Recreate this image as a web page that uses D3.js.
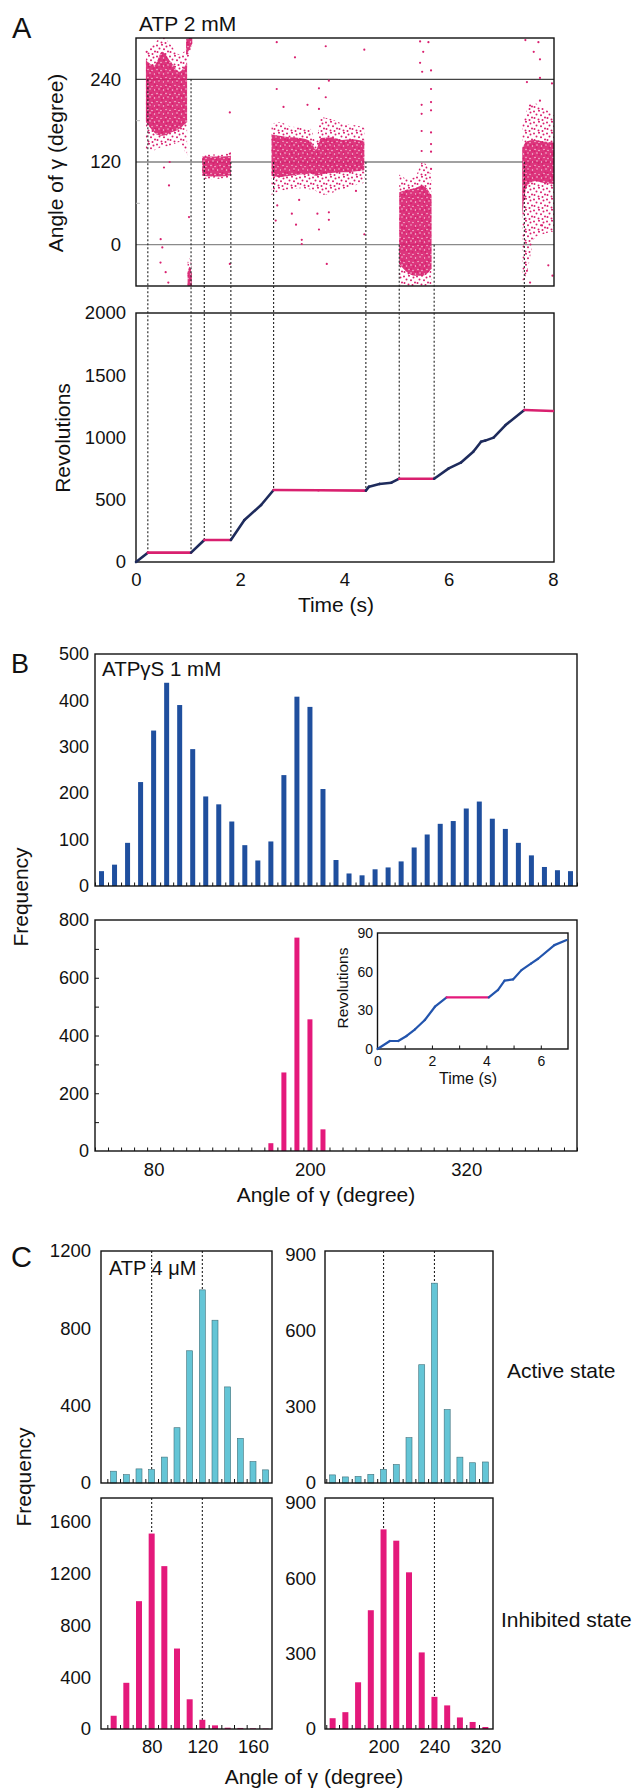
<!DOCTYPE html>
<html lang="en">
<head>
	<meta charset="utf-8">
	<title>Rotation of gamma subunit</title>
	<script src="https://cdn.jsdelivr.net/npm/d3@7"></script>
	<style>
		body { margin: 0; background: #fff; }
		svg text { font-family: "Liberation Sans", Arial, Helvetica, sans-serif; fill: #111; }
	</style>
</head>
<body>
<script type="text/javascript">

	// ---------- Panel A data ----------
	// dashed guide lines: time, angle where they start in the top plot, revolutions where they end
	var dashTimes = [0.227, 1.056, 1.31, 1.82, 2.64, 4.41, 5.05, 5.72, 7.45];
	var dashAngles = [240, 240, 120, 120, 120, 120, 0, 0, 120];
	var dashRevs = [75, 75, 177, 177, 578, 573, 669, 669, 1221];

	// pauses (drawn pink on the revolution trace)
	var pauseStart = [0.227, 1.31, 2.64, 5.05, 7.45];
	var pauseEnd = [1.056, 1.82, 4.41, 5.72, 8.0];

	// revolution trace
	var revTime = [0, 0.227, 1.056, 1.31, 1.82, 2.08, 2.40, 2.64, 3.5, 4.41, 4.47, 4.67, 4.90, 5.05, 5.72, 6.00, 6.23, 6.47, 6.62, 6.70, 6.86, 7.09, 7.45, 8.0];
	var revValue = [0, 75, 75, 177, 177, 337, 458, 578, 576, 573, 605, 627, 637, 669, 669, 752, 798, 886, 966, 975, 999, 1100, 1221, 1213];

	// angle clouds (time samples, outer and dense envelopes)
	var cloudTime = [
		[0.19, 0.35, 0.50, 0.67, 0.83, 0.98],
		[0.96, 1.00, 1.04, 1.08],
		[0.99, 1.03, 1.07],
		[1.27, 1.45, 1.65, 1.82],
		[2.60, 2.75, 2.95, 3.15, 3.35, 3.45, 3.55, 3.75, 3.95, 4.15, 4.38],
		[5.05, 5.20, 5.35, 5.50, 5.67],
		[7.41, 7.50, 7.65, 7.80, 8.05]
	];
	var cloudOuterHi = [
		[280, 292, 301, 290, 276, 285],
		[300, 301, 301, 301],
		[-25, -20, -30],
		[132, 131, 131, 134],
		[175, 178, 172, 170, 168, 150, 185, 182, 176, 174, 170],
		[102, 96, 98, 120, 100],
		[175, 195, 205, 200, 185]
	];
	var cloudCoreHi = [
		[268, 260, 280, 265, 251, 265],
		[298, 300, 301, 301],
		[-40, -32, -45],
		[128, 128, 128, 129],
		[160, 158, 156, 155, 150, 138, 155, 156, 152, 153, 150],
		[76, 80, 82, 86, 71],
		[140, 150, 152, 150, 148]
	];
	var cloudCoreLo = [
		[178, 163, 158, 163, 168, 178],
		[275, 280, 286, 292],
		[-60, -60, -60],
		[100, 99, 99, 101],
		[100, 98, 100, 102, 103, 100, 102, 104, 105, 106, 108],
		[-28, -40, -45, -45, -35],
		[40, 85, 92, 90, 88]
	];
	var cloudOuterLo = [
		[139, 137, 142, 144, 149, 125],
		[262, 270, 282, 290],
		[-60, -60, -60],
		[96, 95, 96, 98],
		[72, 78, 80, 82, 80, 78, 72, 75, 80, 85, 90],
		[-57, -60, -60, -60, -58],
		[-55, -40, 10, 15, 20]
	];

	// single scattered angle readings
	var strayTime = [0.205, 0.633, 0.537, 0.646, 0.473, 0.505, 0.47, 0.569, 0.62, 1.017,
		1.80, 1.80, 1.80, 2.70, 3.05, 3.64, 4.38, 2.70, 2.83, 3.29,
		3.51, 3.70, 3.64, 3.51, 2.71, 2.68, 3.07, 3.18, 3.18, 3.51,
		3.48, 3.70, 3.70, 3.66, 4.22, 4.38, 3.13, 2.99, 5.45, 5.51,
		5.45, 5.49, 5.66, 5.66, 5.48, 5.66, 5.48, 5.66, 5.48, 5.66,
		5.48, 5.66, 5.66, 5.66, 5.61, 7.50, 7.75, 7.56, 7.75, 7.47,
		7.72, 7.63, 7.75, 7.98, 7.91, 7.99, 7.79, 7.50, 7.56];
	var strayAngle = [280, 86, 112, 120, 8, -4, -26, -40, -55, 40,
		192, 132, -28, 294, 272, 288, 283, 226, 200, 203,
		227, 238, 214, 197, 57, 35, 29, 7, 1, 22,
		45, 47, 36, -28, 78, 15, 65, 45, 295, 280,
		264, 251, 253, 226, 203, 207, 190, 195, 165, 163,
		136, 146, 135, 110, 294, 236, 242, 202, 209, 297,
		294, 280, 269, 234, -30, -45, 28, -38, -55];

	var angleTicks = [0, 120, 240];
	var timeTicks = [0, 2, 4, 6, 8];
	var revTicks = [0, 500, 1000, 1500, 2000];

	// ---------- Panel B data ----------
	var bBins = [40, 50, 60, 70, 80, 90, 100, 110, 120, 130, 140, 150, 160, 170, 180, 190, 200, 210, 220,
		230, 240, 250, 260, 270, 280, 290, 300, 310, 320, 330, 340, 350, 360, 370, 380, 390, 400];
	var bActive = [32, 46, 93, 224, 335, 438, 390, 295, 193, 176, 139, 88, 55, 96, 239, 408, 386, 209, 56,
		27, 23, 36, 40, 53, 83, 111, 134, 140, 167, 182, 145, 123, 93, 66, 41, 34, 32];
	var bPausedBins = [170, 180, 190, 200, 210];
	var bPaused = [27, 272, 739, 456, 75];
	var bTopTicks = [0, 100, 200, 300, 400, 500];
	var bBotTicks = [0, 200, 400, 600, 800];
	var bAngleTicks = [80, 200, 320];

	// inset trace
	var insetTime = [0, 0.455, 0.76, 1.07, 1.38, 1.74, 2.11, 2.54, 4.09, 4.43, 4.67, 4.98, 5.29, 5.65, 5.90, 6.50, 6.95];
	var insetRev = [0, 6.2, 6.2, 10.1, 15.3, 22.5, 32.8, 40, 40, 45.8, 53, 54, 61.2, 66.4, 70, 80.6, 84.5];
	var insetPause = [2.54, 4.09];

	// ---------- Panel C data ----------
	var cLeftBins = [50, 60, 70, 80, 90, 100, 110, 120, 130, 140, 150, 160, 170];
	var cRightBins = [160, 170, 180, 190, 200, 210, 220, 230, 240, 250, 260, 270, 280];
	var cActiveLeft = [61, 43, 73, 70, 134, 286, 684, 999, 842, 497, 231, 111, 68];
	var cActiveRight = [32, 24, 26, 34, 54, 73, 179, 467, 789, 290, 102, 80, 83];
	var cInhibLeft = [102, 356, 985, 1506, 1255, 620, 229, 71, 28, 10, 8, 5, 3];
	var cInhibRight = [43, 67, 186, 473, 795, 750, 624, 305, 128, 94, 46, 28, 8];
	var cLeftDash = [80, 120];
	var cRightDash = [200, 240];
	var cLeftTicks = [80, 120, 160];
	var cRightTicks = [200, 240, 280];
	var cRightTickLabels = ["200", "240", "320"];

	// Colours
	var pink = "#d9206f";
	var navy = "#1e2b5c";
	var blue = "#1f4f9e";
	var magenta = "#e4197b";
	var cyan = "#64c5d6";
	var plain = d3.format("d");

	//Create SVG element
	var svg = d3.select("body")
				.append("svg")
				.attr("width", 636)
				.attr("height", 1789);

	var defs = svg.append("defs");

	// loose speckle pattern for the outer part of the angle clouds
	var speck = defs.append("pattern")
		.attr("id", "speckle")
		.attr("width", 13)
		.attr("height", 11)
		.attr("patternUnits", "userSpaceOnUse");
	[[1, 1.5], [6, 0.8], [10.5, 2.5], [3.5, 4.5], [8, 5.2], [12, 7.5], [1.5, 8], [5.5, 9.5], [9.5, 10]].forEach(function(p) {
		speck.append("circle").attr("cx", p[0]).attr("cy", p[1]).attr("r", 1).attr("fill", pink);
	});

	// dense pattern for the centre of the clouds
	var dense = defs.append("pattern")
		.attr("id", "dense")
		.attr("width", 9)
		.attr("height", 8)
		.attr("patternUnits", "userSpaceOnUse");
	dense.append("rect").attr("width", 9).attr("height", 8).attr("fill", pink).attr("fill-opacity", 0.9);
	[[1.5, 2], [6, 1], [4, 5.5], [8, 6.5]].forEach(function(p) {
		dense.append("circle").attr("cx", p[0]).attr("cy", p[1]).attr("r", 0.7).attr("fill", "#fff").attr("fill-opacity", 0.8);
	});

	// helpers
	function drawBox(x0, y0, x1, y1) {
		svg.append("rect")
			.attr("x", x0).attr("y", y0)
			.attr("width", x1 - x0).attr("height", y1 - y0)
			.attr("fill", "none")
			.attr("stroke", "#111")
			.attr("stroke-width", 1.4);
	}

	function styleAxis(g, size) {
		g.select(".domain").remove();
		g.selectAll("text").style("font-size", size + "px").attr("fill", "#111");
		g.selectAll("line").attr("stroke", "#111");
	}

	function label(x, y, txt, size, anchor, rotate) {
		var t = svg.append("text")
			.attr("font-size", size + "px")
			.attr("text-anchor", anchor || "start")
			.text(txt);
		if (rotate) {
			t.attr("transform", "translate(" + x + "," + y + ") rotate(-90)");
		} else {
			t.attr("x", x).attr("y", y);
		}
		return t;
	}

	function isPaused(t, starts, ends) {
		for (var i = 0; i < starts.length; i++) {
			if (t > starts[i] && t < ends[i]) return true;
		}
		return false;
	}

	function drawTrace(xs, ys, times, values, starts, ends, colA, colB, width) {
		var pts = times.map(function(t, i) { return [t, values[i]]; });
		svg.append("g").selectAll("line")
			.data(d3.pairs(pts))
			.enter()
			.append("line")
			.attr("x1", function(d) { return xs(d[0][0]); })
			.attr("y1", function(d) { return ys(d[0][1]); })
			.attr("x2", function(d) { return xs(d[1][0]); })
			.attr("y2", function(d) { return ys(d[1][1]); })
			.attr("stroke", function(d) {
				return isPaused((d[0][0] + d[1][0]) / 2, starts, ends) ? colB : colA;
			})
			.attr("stroke-width", width)
			.attr("stroke-linecap", "round");
	}

	// ================= Panel A =================
	var tScale = d3.scaleLinear().domain([0, 8]).range([136, 553]);
	var angScale = d3.scaleLinear().domain([-60, 300]).range([286, 38]);
	var revScale = d3.scaleLinear().domain([0, 2000]).range([562, 313]);

	defs.append("clipPath").attr("id", "clipA")
		.append("rect").attr("x", 136).attr("y", 38).attr("width", 418).attr("height", 248);

	// gridlines at 0, 120, 240
	svg.append("g").selectAll("line")
		.data(angleTicks)
		.enter()
		.append("line")
		.attr("x1", 136).attr("x2", 554)
		.attr("y1", function(d) { return angScale(d); })
		.attr("y2", function(d) { return angScale(d); })
		.attr("stroke", function(d) { return d === 0 ? "#8a8a8a" : "#444"; })
		.attr("stroke-width", 1.1);

	// angle clouds
	var cloudArea = d3.area()
		.x(function(d) { return tScale(d.t); })
		.y0(function(d) { return angScale(d.lo); })
		.y1(function(d) { return angScale(d.hi); })
		.curve(d3.curveMonotoneX);

	var cloudG = svg.append("g").attr("clip-path", "url(#clipA)");
	cloudTime.forEach(function(times, i) {
		var outer = times.map(function(t, j) { return {t: t, lo: cloudOuterLo[i][j], hi: cloudOuterHi[i][j]}; });
		var core = times.map(function(t, j) { return {t: t, lo: cloudCoreLo[i][j], hi: cloudCoreHi[i][j]}; });
		cloudG.append("path").attr("d", cloudArea(outer)).attr("fill", "url(#speckle)");
		cloudG.append("path").attr("d", cloudArea(core)).attr("fill", "url(#dense)");
	});

	cloudG.selectAll("circle.stray")
		.data(strayTime)
		.enter()
		.append("circle")
		.attr("class", "stray")
		.attr("cx", function(d) { return tScale(d); })
		.attr("cy", function(d, i) { return angScale(strayAngle[i]); })
		.attr("r", 1.1)
		.attr("fill", pink);

	drawBox(136, 38, 554, 286);

	// minor ticks at 60 and 180
	svg.append("g").selectAll("line")
		.data([60, 180])
		.enter()
		.append("line")
		.attr("x1", 136).attr("x2", 140)
		.attr("y1", function(d) { return angScale(d); })
		.attr("y2", function(d) { return angScale(d); })
		.attr("stroke", "#bbb");

	var aTopAxis = svg.append("g")
		.attr("transform", "translate(136,0)")
		.call(d3.axisLeft(angScale).tickValues(angleTicks).tickSize(0).tickPadding(15).tickFormat(plain));
	styleAxis(aTopAxis, 18.5);

	// revolution panel
	drawBox(136, 313, 554, 562);

	svg.append("g").selectAll("line")
		.data(dashTimes)
		.enter()
		.append("line")
		.attr("x1", function(d) { return tScale(d); })
		.attr("x2", function(d) { return tScale(d); })
		.attr("y1", function(d, i) { return angScale(dashAngles[i]); })
		.attr("y2", function(d, i) { return revScale(dashRevs[i]); })
		.attr("stroke", "#222")
		.attr("stroke-width", 1.1)
		.attr("stroke-dasharray", "2,2");

	drawTrace(tScale, revScale, revTime, revValue, pauseStart, pauseEnd, navy, pink, 2.6);

	var aRevAxis = svg.append("g")
		.attr("transform", "translate(136,0)")
		.call(d3.axisLeft(revScale).tickValues(revTicks).tickSize(0).tickPadding(10).tickFormat(plain));
	styleAxis(aRevAxis, 18.5);

	var aTimeAxis = svg.append("g")
		.attr("transform", "translate(0,562)")
		.call(d3.axisBottom(tScale).tickValues(timeTicks).tickSize(0).tickPadding(11).tickFormat(plain));
	styleAxis(aTimeAxis, 18.5);

	label(12, 38, "A", 29);
	label(139, 31, "ATP 2 mM", 21);
	label(63, 163, "Angle of \u03b3 (degree)", 21, "middle", true);
	label(70, 438, "Revolutions", 21, "middle", true);
	label(336, 612, "Time (s)", 21, "middle");

	// ================= Panel B =================
	var bX = d3.scaleLinear().domain([35, 405]).range([95, 577]);
	var bTopY = d3.scaleLinear().domain([0, 500]).range([886, 654]);
	var bBotY = d3.scaleLinear().domain([0, 800]).range([1151, 920]);
	var bEdges = [35, 45, 55, 65, 75, 85, 95, 105, 115, 125, 135, 145, 155, 165, 175, 185, 195, 205, 215,
		225, 235, 245, 255, 265, 275, 285, 295, 305, 315, 325, 335, 345, 355, 365, 375, 385, 395, 405];

	svg.append("g").selectAll("rect")
		.data(bActive)
		.enter()
		.append("rect")
		.attr("x", function(d, i) { return bX(bBins[i]) - 2.5; })
		.attr("y", function(d) { return bTopY(d); })
		.attr("width", 5)
		.attr("height", function(d) { return 886 - bTopY(d); })
		.attr("fill", blue);

	svg.append("g").selectAll("rect")
		.data(bPaused)
		.enter()
		.append("rect")
		.attr("x", function(d, i) { return bX(bPausedBins[i]) - 2.5; })
		.attr("y", function(d) { return bBotY(d); })
		.attr("width", 5)
		.attr("height", function(d) { return 1151 - bBotY(d); })
		.attr("fill", magenta);

	drawBox(95, 654, 577, 886);
	drawBox(95, 920, 577, 1151);

	[886, 1151].forEach(function(y) {
		var g = svg.append("g")
			.attr("transform", "translate(0," + y + ")")
			.call(d3.axisBottom(bX).tickValues(bEdges).tickSize(-3.5).tickFormat(""));
		styleAxis(g, 10);
	});

	var bLeftTicks = svg.append("g")
		.attr("transform", "translate(95,0)")
		.call(d3.axisLeft(bBotY).tickValues([100, 200, 300, 400, 500, 600, 700]).tickSize(-4).tickFormat(""));
	styleAxis(bLeftTicks, 10);

	var bTopAxis = svg.append("g")
		.attr("transform", "translate(95,0)")
		.call(d3.axisLeft(bTopY).tickValues(bTopTicks).tickSize(0).tickPadding(6).tickFormat(plain));
	styleAxis(bTopAxis, 18);

	var bBotAxis = svg.append("g")
		.attr("transform", "translate(95,0)")
		.call(d3.axisLeft(bBotY).tickValues(bBotTicks).tickSize(0).tickPadding(6).tickFormat(plain));
	styleAxis(bBotAxis, 18);

	var bXAxis = svg.append("g")
		.attr("transform", "translate(0,1151)")
		.call(d3.axisBottom(bX).tickValues(bAngleTicks).tickSize(0).tickPadding(12).tickFormat(plain));
	styleAxis(bXAxis, 18.5);

	// inset revolution trace
	var inT = d3.scaleLinear().domain([0, 7]).range([377.5, 568]);
	var inY = d3.scaleLinear().domain([0, 90]).range([1049, 933]);

	drawBox(377.5, 933, 568, 1049);
	drawTrace(inT, inY, insetTime, insetRev, [insetPause[0]], [insetPause[1]], "#2254ad", magenta, 2.2);

	var inXTicks = svg.append("g")
		.attr("transform", "translate(0,1049)")
		.call(d3.axisBottom(inT).tickValues([1, 2, 3, 4, 5, 6]).tickSize(-3.5).tickFormat(""));
	styleAxis(inXTicks, 10);

	var inXAxis = svg.append("g")
		.attr("transform", "translate(0,1049)")
		.call(d3.axisBottom(inT).tickValues([0, 2, 4, 6]).tickSize(0).tickPadding(7).tickFormat(plain));
	styleAxis(inXAxis, 14);

	var inYAxis = svg.append("g")
		.attr("transform", "translate(377.5,0)")
		.call(d3.axisLeft(inY).tickValues([0, 30, 60, 90]).tickSize(0).tickPadding(4.5).tickFormat(plain));
	styleAxis(inYAxis, 14);

	label(348, 988, "Revolutions", 15.5, "middle", true);
	label(468, 1084, "Time (s)", 16, "middle");

	label(11, 673, "B", 27);
	label(102, 676, "ATP\u03b3S 1 mM", 20.5);
	label(28, 897, "Frequency", 21, "middle", true);
	label(326, 1202, "Angle of \u03b3 (degree)", 21, "middle");

	// ================= Panel C =================
	var cLX = d3.scaleLinear().domain([40, 175]).range([101, 272]);
	var cRX = d3.scaleLinear().domain([154, 286]).range([325, 493]);
	var cLeftEdges = [45, 55, 65, 75, 85, 95, 105, 115, 125, 135, 145, 155, 165];
	var cRightEdges = [155, 165, 175, 185, 195, 205, 215, 225, 235, 245, 255, 265, 275];

	var panelsC = [
		{xs: cLX, bins: cLeftBins, vals: cActiveLeft, dom: 1200, y0: 1251, y1: 1483, x0: 101, x1: 272,
			col: cyan, dash: cLeftDash, edges: cLeftEdges, ticks: [0, 400, 800, 1200], pad: 10},
		{xs: cRX, bins: cRightBins, vals: cActiveRight, dom: 916, y0: 1251, y1: 1483, x0: 325, x1: 493,
			col: cyan, dash: cRightDash, edges: cRightEdges, ticks: [0, 300, 600, 900], pad: 9},
		{xs: cLX, bins: cLeftBins, vals: cInhibLeft, dom: 1780, y0: 1498, y1: 1729, x0: 101, x1: 272,
			col: magenta, dash: cLeftDash, edges: cLeftEdges, ticks: [0, 400, 800, 1200, 1600], pad: 10},
		{xs: cRX, bins: cRightBins, vals: cInhibRight, dom: 920, y0: 1498, y1: 1729, x0: 325, x1: 493,
			col: magenta, dash: cRightDash, edges: cRightEdges, ticks: [0, 300, 600, 900], pad: 9}
	];

	panelsC.forEach(function(p) {
		var ys = d3.scaleLinear().domain([0, p.dom]).range([p.y1, p.y0]);

		// dashed reference angles
		svg.append("g").selectAll("line")
			.data(p.dash)
			.enter()
			.append("line")
			.attr("x1", function(d) { return p.xs(d); })
			.attr("x2", function(d) { return p.xs(d); })
			.attr("y1", p.y0)
			.attr("y2", p.y1)
			.attr("stroke", "#222")
			.attr("stroke-width", 1.1)
			.attr("stroke-dasharray", "2,2");

		svg.append("g").selectAll("rect")
			.data(p.vals)
			.enter()
			.append("rect")
			.attr("x", function(d, i) { return p.xs(p.bins[i]) - 3; })
			.attr("y", function(d) { return ys(d); })
			.attr("width", 6)
			.attr("height", function(d) { return p.y1 - ys(d); })
			.attr("fill", p.col)
			.attr("stroke", p.col === cyan ? "#3f6f7a" : "none")
			.attr("stroke-width", 0.6);

		drawBox(p.x0, p.y0, p.x1, p.y1);

		var tk = svg.append("g")
			.attr("transform", "translate(0," + p.y1 + ")")
			.call(d3.axisBottom(p.xs).tickValues(p.edges).tickSize(-4).tickFormat(""));
		styleAxis(tk, 10);

		var ya = svg.append("g")
			.attr("transform", "translate(" + p.x0 + ",0)")
			.call(d3.axisLeft(ys).tickValues(p.ticks).tickSize(0).tickPadding(p.pad).tickFormat(plain));
		styleAxis(ya, 18.5);
	});

	var cLXAxis = svg.append("g")
		.attr("transform", "translate(0,1729)")
		.call(d3.axisBottom(cLX).tickValues(cLeftTicks).tickSize(0).tickPadding(11).tickFormat(plain));
	styleAxis(cLXAxis, 18.5);

	var cRXAxis = svg.append("g")
		.attr("transform", "translate(0,1729)")
		.call(d3.axisBottom(cRX).tickValues(cRightTicks).tickSize(0).tickPadding(11)
			.tickFormat(function(d, i) { return cRightTickLabels[i]; }));
	styleAxis(cRXAxis, 18.5);

	label(11, 1267, "C", 29);
	label(109, 1275, "ATP 4 \u03bcM", 20);
	label(507, 1378, "Active state", 21);
	label(501, 1627, "Inhibited state", 21);
	label(31, 1477, "Frequency", 21, "middle", true);
	label(314, 1784, "Angle of \u03b3 (degree)", 21, "middle");

</script>
</body>
</html>
